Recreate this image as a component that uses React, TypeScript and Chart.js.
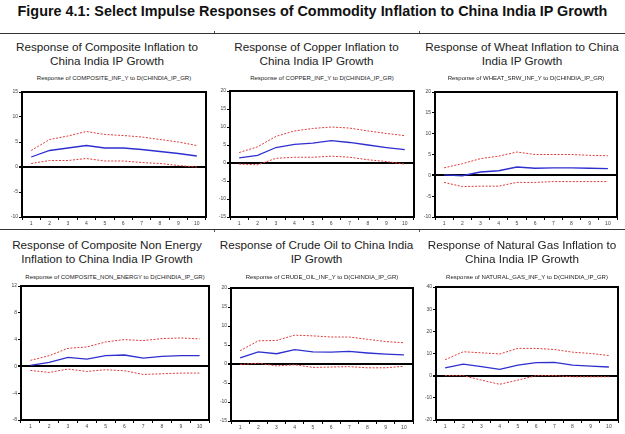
import React, { useEffect, useRef } from "react";
import { Chart, registerables } from "chart.js";

Chart.register(...registerables);

const MAIN_TITLE = "Figure 4.1: Select Impulse Responses of Commodity Inflation to China India IP Growth";
const PERIODS = ["1", "2", "3", "4", "5", "6", "7", "8", "9", "10"];

// Composite inflation
const compositeResp = [2.0, 3.3, 3.8, 4.3, 3.8, 3.8, 3.5, 3.1, 2.7, 2.2];
const compositeUpper = [3.3, 5.5, 6.2, 7.1, 6.5, 6.3, 6.0, 5.5, 5.0, 4.3];
const compositeLower = [0.7, 1.3, 1.3, 1.7, 1.2, 1.2, 0.9, 0.7, 0.3, 0.0];

// Copper inflation
const copperResp = [1.4, 2.1, 4.3, 5.2, 5.5, 6.2, 5.7, 5.0, 4.3, 3.7];
const copperUpper = [2.9, 4.5, 7.4, 8.9, 9.6, 10.0, 9.7, 8.9, 8.2, 7.6];
const copperLower = [-0.3, -0.5, 1.3, 1.6, 1.6, 1.9, 1.6, 0.9, 0.4, -0.3];

// Wheat inflation
const wheatResp = [0.1, -0.1, 0.8, 1.1, 2.0, 1.7, 1.8, 1.8, 1.7, 1.6];
const wheatUpper = [1.8, 2.8, 4.0, 4.6, 5.6, 5.0, 5.0, 5.0, 4.8, 4.7];
const wheatLower = [-1.7, -2.7, -2.6, -2.6, -1.7, -1.7, -1.5, -1.5, -1.5, -1.5];

// Composite non energy inflation
const nonEnergyResp = [0.15, 0.6, 1.35, 1.1, 1.6, 1.7, 1.25, 1.5, 1.6, 1.6];
const nonEnergyUpper = [0.9, 1.6, 2.7, 2.9, 3.65, 4.0, 3.85, 4.15, 4.25, 4.1];
const nonEnergyLower = [-0.6, -0.9, -0.4, -0.75, -0.5, -0.65, -1.2, -1.1, -1.0, -1.0];

// Crude oil inflation
const crudeResp = [1.6, 3.2, 2.7, 3.8, 3.2, 3.1, 3.3, 2.9, 2.6, 2.4];
const crudeUpper = [3.5, 6.1, 6.2, 7.6, 7.4, 7.1, 7.1, 6.5, 5.9, 5.6];
const crudeLower = [-0.1, 0.2, -0.5, -0.2, -0.9, -0.8, -0.7, -1.0, -1.0, -0.6];

// Natural gas inflation
const gasResp = [3.5, 5.2, 4.1, 2.8, 4.8, 5.9, 6.0, 4.8, 4.3, 3.9];
const gasUpper = [7.2, 10.8, 10.3, 9.8, 12.3, 12.3, 11.8, 10.6, 10.0, 9.1];
const gasLower = [0.0, 0.0, -2.0, -3.9, -2.0, 0.0, 0.0, -0.5, -0.5, -0.5];

type Panel = {
  title: string[];
  subtitle: string;
  resp: number[];
  upper: number[];
  lower: number[];
  min: number;
  max: number;
  step: number;
  cell: [number, number];
  titleTop: number;
  subTop: number;
  box: [number, number, number, number]; // x0, x1, y0, y1
};

const PANELS: Panel[] = [
  {
    title: ["Response of Composite Inflation to", "China India IP Growth"],
    subtitle: "Response of COMPOSITE_INF_Y to D(CHINDIA_IP_GR)",
    resp: compositeResp, upper: compositeUpper, lower: compositeLower,
    min: -10, max: 15, step: 5,
    cell: [0, 214], titleTop: 40, subTop: 74, box: [22, 206, 92, 217],
  },
  {
    title: ["Response of Copper Inflation to", "China India IP Growth"],
    subtitle: "Response of COPPER_INF_Y to D(CHINDIA_IP_GR)",
    resp: copperResp, upper: copperUpper, lower: copperLower,
    min: -15, max: 20, step: 5,
    cell: [214, 419], titleTop: 40, subTop: 74, box: [230, 414, 91, 217],
  },
  {
    title: ["Response of Wheat Inflation to China", "India IP Growth"],
    subtitle: "Response of WHEAT_SRW_INF_Y to D(CHINDIA_IP_GR)",
    resp: wheatResp, upper: wheatUpper, lower: wheatLower,
    min: -10, max: 20, step: 5,
    cell: [419, 625], titleTop: 40, subTop: 74, box: [435, 617, 92, 217],
  },
  {
    title: ["Response of Composite Non Energy", "Inflation to China India IP Growth"],
    subtitle: "Response of COMPOSITE_NON_ENERGY to D(CHINDIA_IP_GR)",
    resp: nonEnergyResp, upper: nonEnergyUpper, lower: nonEnergyLower,
    min: -8, max: 12, step: 4,
    cell: [0, 214], titleTop: 238, subTop: 273, box: [21, 209, 286, 420],
  },
  {
    title: ["Response of Crude Oil to China India", "IP Growth"],
    subtitle: "Response of CRUDE_OIL_INF_Y to D(CHINDIA_IP_GR)",
    resp: crudeResp, upper: crudeUpper, lower: crudeLower,
    min: -15, max: 20, step: 5,
    cell: [214, 419], titleTop: 238, subTop: 273, box: [231, 413, 288, 421],
  },
  {
    title: ["Response of Natural Gas Inflation to", "China India IP Growth"],
    subtitle: "Response of NATURAL_GAS_INF_Y to D(CHINDIA_IP_GR)",
    resp: gasResp, upper: gasUpper, lower: gasLower,
    min: -20, max: 40, step: 10,
    cell: [419, 625], titleTop: 238, subTop: 273, box: [436, 618, 287, 420],
  },
];

const Y_AXIS_W = 16;
const X_AXIS_H = 12;
const PAD_TOP = 4;
const PAD_RIGHT = 4;
const FONT = "'Liberation Sans', Arial, sans-serif";

const boxPlugin = {
  id: "plotBox",
  afterDraw(chart: any) {
    const { ctx, chartArea } = chart;
    ctx.save();
    ctx.strokeStyle = "#000";
    ctx.lineWidth = 2;
    ctx.strokeRect(chartArea.left, chartArea.top, chartArea.right - chartArea.left, chartArea.bottom - chartArea.top);
    ctx.restore();
  },
};

function PanelChart({ p }: { p: Panel }) {
  const ref = useRef<HTMLCanvasElement | null>(null);
  const [x0, x1, y0, y1] = p.box;
  const w = x1 - x0 + Y_AXIS_W + PAD_RIGHT;
  const h = y1 - y0 + PAD_TOP + X_AXIS_H;

  useEffect(() => {
    if (!ref.current) return;
    const chart = new Chart(ref.current, {
      type: "line",
      data: {
        labels: PERIODS,
        datasets: [
          {
            data: p.upper,
            borderColor: "#e23b3b",
            borderWidth: 1,
            borderDash: [2, 1.5],
            pointRadius: 0,
            tension: 0,
            fill: false,
          },
          {
            data: p.lower,
            borderColor: "#e23b3b",
            borderWidth: 1,
            borderDash: [2, 1.5],
            pointRadius: 0,
            tension: 0,
            fill: false,
          },
          {
            data: p.resp,
            borderColor: "#2f2fd0",
            borderWidth: 1.3,
            pointRadius: 0,
            tension: 0,
            fill: false,
          },
        ],
      },
      options: {
        animation: false,
        responsive: false,
        maintainAspectRatio: false,
        devicePixelRatio: 1,
        layout: { padding: { top: PAD_TOP, right: PAD_RIGHT, left: 0, bottom: 0 } },
        plugins: {
          legend: { display: false },
          tooltip: { enabled: false },
          title: { display: false },
        },
        scales: {
          x: {
            type: "category",
            offset: true,
            grid: {
              offset: true,
              drawOnChartArea: false,
              drawTicks: true,
              tickLength: 3,
              tickColor: "#000",
              tickWidth: 1,
            },
            border: { display: false },
            ticks: {
              font: { size: 5, family: FONT },
              color: "#444",
              padding: 1,
              maxRotation: 0,
              autoSkip: false,
            },
            afterFit: (s: any) => {
              s.height = X_AXIS_H;
            },
          },
          y: {
            min: p.min,
            max: p.max,
            ticks: {
              stepSize: p.step,
              font: { size: 5, family: FONT },
              color: "#444",
              padding: 1,
            },
            grid: {
              drawTicks: true,
              tickLength: 3,
              tickColor: "#000",
              color: (c: any) => (c.tick && c.tick.value === 0 ? "#000" : "rgba(0,0,0,0)"),
              lineWidth: (c: any) => (c.tick && c.tick.value === 0 ? 2 : 1),
            },
            border: { display: false },
            afterFit: (s: any) => {
              s.width = Y_AXIS_W;
            },
          },
        },
      },
      plugins: [boxPlugin],
    } as any);
    return () => chart.destroy();
  }, [p]);

  return (
    <canvas
      ref={ref}
      width={w}
      height={h}
      style={{ position: "absolute", left: x0 - Y_AXIS_W, top: y0 - PAD_TOP, width: w, height: h }}
    />
  );
}

export default function App() {
  return (
    <div
      style={{
        position: "absolute",
        left: 0,
        top: 0,
        width: 625,
        height: 434,
        background: "#fff",
        overflow: "hidden",
        fontFamily: FONT,
      }}
    >
      <div
        style={{
          position: "absolute",
          left: 0,
          top: 2,
          width: 625,
          textAlign: "center",
          fontWeight: "bold",
          fontSize: 14.4,
          lineHeight: "18px",
          color: "#111",
          whiteSpace: "nowrap",
        }}
      >
        {MAIN_TITLE}
      </div>
      <div style={{ position: "absolute", left: 0, top: 33, width: 625, height: 1, background: "#333" }} />
      <div style={{ position: "absolute", left: 0, top: 229, width: 625, height: 1, background: "#333" }} />
      {[214, 419].map((x) => (
        <React.Fragment key={x}>
          <div style={{ position: "absolute", left: x, top: 31, width: 1, height: 2, background: "#555" }} />
          <div style={{ position: "absolute", left: x, top: 230, width: 1, height: 2, background: "#555" }} />
        </React.Fragment>
      ))}
      {PANELS.map((p, i) => (
        <React.Fragment key={i}>
          <div
            style={{
              position: "absolute",
              left: p.cell[0],
              top: p.titleTop,
              width: p.cell[1] - p.cell[0],
              textAlign: "center",
              fontSize: 11.7,
              lineHeight: "14px",
              color: "#222",
              whiteSpace: "nowrap",
            }}
          >
            {p.title[0]}
            <br />
            {p.title[1]}
          </div>
          <div
            style={{
              position: "absolute",
              left: p.box[0] - 20,
              top: p.subTop,
              width: p.box[1] - p.box[0] + 40,
              textAlign: "center",
              fontSize: 6,
              lineHeight: "8px",
              color: "#222",
              whiteSpace: "nowrap",
            }}
          >
            {p.subtitle}
          </div>
          <PanelChart p={p} />
        </React.Fragment>
      ))}
    </div>
  );
}
